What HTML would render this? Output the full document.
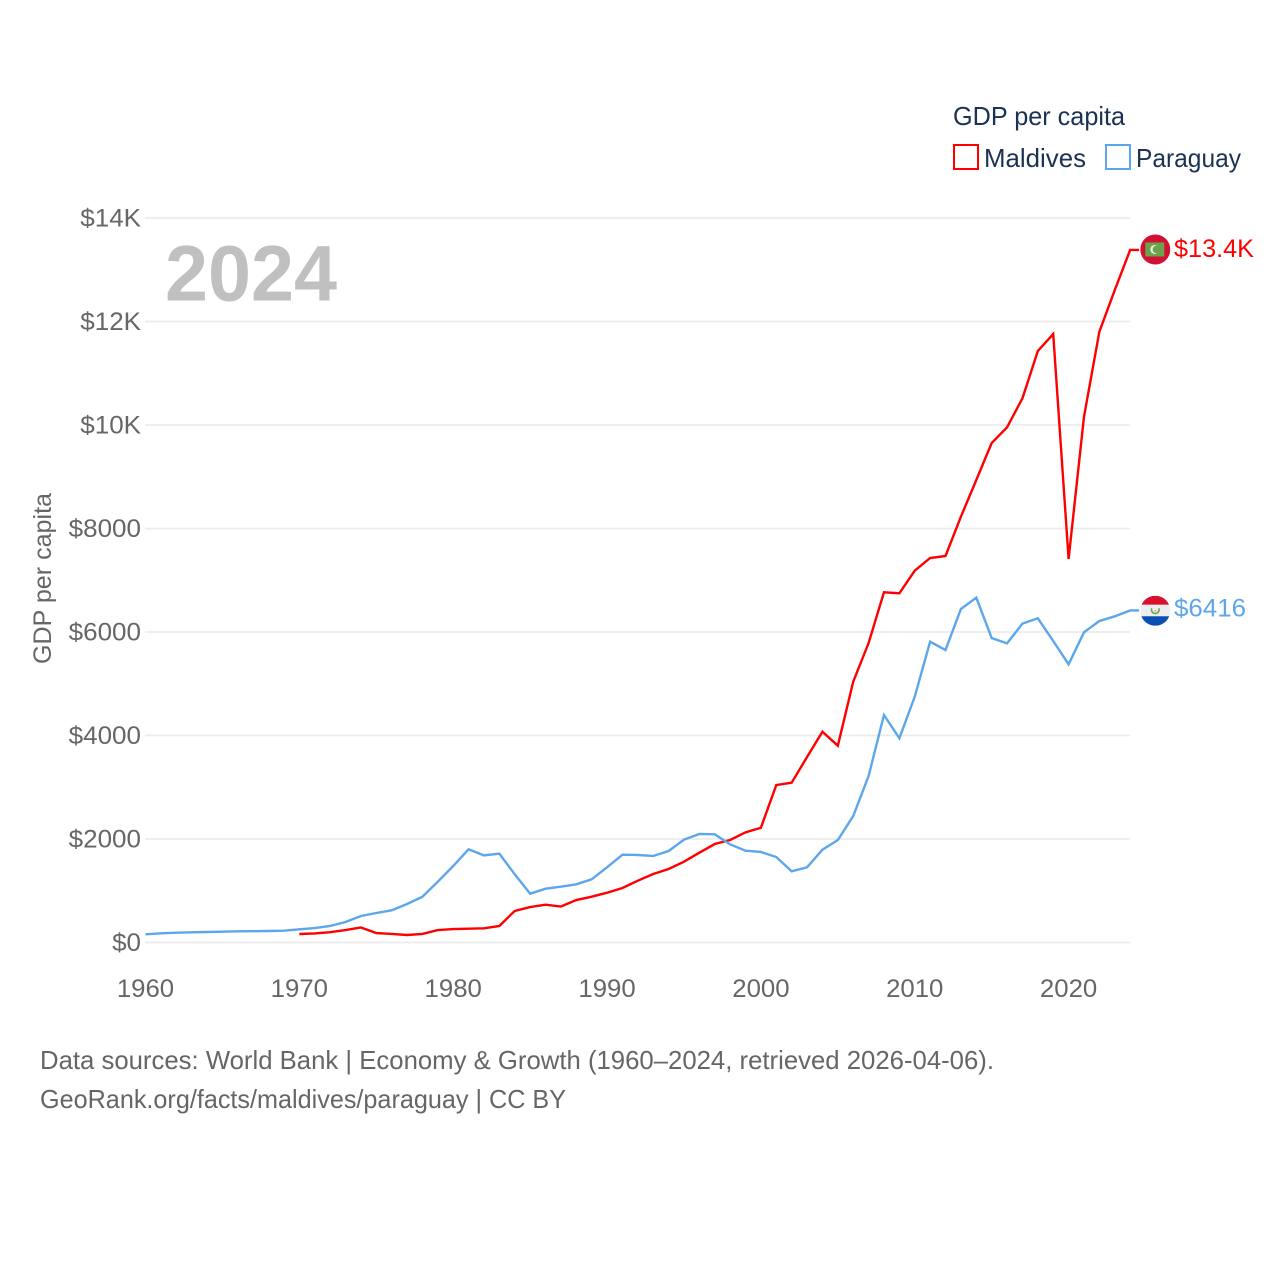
<!DOCTYPE html>
<html lang="en">
<head>
<meta charset="utf-8">
<title>GDP per capita: Maldives and Paraguay</title>
<style>
html,body{margin:0;padding:0;background:#fff;width:1280px;height:1280px;overflow:hidden}
svg{display:block;font-family:"Liberation Sans",sans-serif}
</style>
</head>
<body>
<svg id="chart" xmlns="http://www.w3.org/2000/svg" width="1280" height="1280" viewBox="0 0 1280 1280">
  <defs>
    <clipPath id="flag-clip"><circle cx="0" cy="0" r="15"/></clipPath>
  </defs>
  <g id="grid"></g>
  <g id="y-ticks"></g>
  <g id="x-ticks"></g>
  <text x="165" y="300.5" font-size="79" font-weight="700" fill="#c0c0c0" textLength="172" lengthAdjust="spacingAndGlyphs">2024</text>
  <text transform="translate(51,664) rotate(-90)" font-size="25" fill="#666666" textLength="171" lengthAdjust="spacingAndGlyphs">GDP per capita</text>
  <g id="series"></g>
  <g id="end-labels"></g>

  <g>
    <text x="953" y="125" font-size="26" fill="#1b3252" textLength="172" lengthAdjust="spacingAndGlyphs">GDP per capita</text>
    <rect x="954" y="145" width="24" height="24" fill="none" stroke="#ff0000" stroke-width="2"/>
    <text x="984" y="167" font-size="26" fill="#1b3252" textLength="102" lengthAdjust="spacingAndGlyphs">Maldives</text>
    <rect x="1106" y="145" width="24" height="24" fill="none" stroke="#5ca6ec" stroke-width="2"/>
    <text x="1136" y="167" font-size="26" fill="#1b3252" textLength="105" lengthAdjust="spacingAndGlyphs">Paraguay</text>
  </g>

  <text x="40" y="1069" font-size="26" fill="#666666" textLength="954" lengthAdjust="spacingAndGlyphs">Data sources: World Bank | Economy &amp; Growth (1960–2024, retrieved 2026-04-06).</text>
  <text x="40" y="1108" font-size="26" fill="#666666" textLength="526" lengthAdjust="spacingAndGlyphs">GeoRank.org/facts/maldives/paraguay | CC BY</text>
</svg>

<script>
const yTickValues = [0, 2000, 4000, 6000, 8000, 10000, 12000, 14000];
const yTickLabels = ['$0', '$2000', '$4000', '$6000', '$8000', '$10K', '$12K', '$14K'];
const xTickYears = [1960, 1970, 1980, 1990, 2000, 2010, 2020];
const xTickLabels = ['1960', '1970', '1980', '1990', '2000', '2010', '2020'];

const paraguayStartYear = 1960;
const paraguayValues = [
  158, 178, 190, 197, 203, 209, 216, 219, 222, 229,
  255, 280, 319, 396, 512, 570, 622, 744, 885, 1175,
  1478, 1800, 1684, 1716, 1318, 943, 1040, 1078, 1125, 1221,
  1453, 1697, 1691, 1672, 1768, 1987, 2097, 2090, 1897, 1774,
  1749, 1652, 1376, 1453, 1793, 1981, 2444, 3217, 4396, 3946,
  4750, 5813, 5652, 6444, 6663, 5884, 5781, 6161, 6265, 5826,
  5376, 5994, 6213, 6303, 6416
];
const maldivesStartYear = 1970;
const maldivesValues = [
  164, 175, 200, 240, 290, 183, 165, 145, 165, 240,
  260, 267, 275, 320, 610, 685, 730, 695, 820, 885,
  962, 1053, 1194, 1323, 1420, 1561, 1735, 1903, 1981, 2129,
  2218, 3043, 3088, 3585, 4073, 3803, 5040, 5787, 6767, 6748,
  7185, 7430, 7469, 8228, 8937, 9652, 9955, 10516, 11430, 11758,
  7411, 10160, 11803, 12608, 13382
];
const maldivesEndLabel = '$13.4K';
const paraguayEndLabel = '$6416';

const NS = 'http://www.w3.org/2000/svg';
const xScale = function (year) { return 145.5 + (year - 1960) * 15.385; };
const yScale = function (value) { return 942.5 - value * 0.05175; };

function make(tag, attrs, parent) {
  const el = document.createElementNS(NS, tag);
  Object.keys(attrs).forEach(function (k) { el.setAttribute(k, attrs[k]); });
  parent.appendChild(el);
  return el;
}
function squeeze(el, factor) {
  el.setAttribute('textLength', (el.getComputedTextLength() * factor).toFixed(1));
  el.setAttribute('lengthAdjust', 'spacingAndGlyphs');
}

const gridG = document.getElementById('grid');
const yG = document.getElementById('y-ticks');
yTickValues.forEach(function (v, i) {
  const y = yScale(v);
  const line = make('line', { x1: 145, x2: 1130, y1: y, y2: y, stroke: '#ebebeb', 'stroke-width': 1.8 }, gridG);
  
  
  const t = make('text', { x: 141, y: y + 8.5, 'text-anchor': 'end', 'font-size': 25, fill: '#666666' }, yG);
  t.textContent = yTickLabels[i];
  
  
  squeeze(t, 1.04);
});

const xG = document.getElementById('x-ticks');
xTickYears.forEach(function (yr, i) {
  const t = make('text', { x: xScale(yr), y: 997, 'text-anchor': 'middle', 'font-size': 25, fill: '#666666' }, xG);
  t.textContent = xTickLabels[i];
  
  
  squeeze(t, 1.03);
});

function linePath(values, startYear) {
  let d = '';
  values.forEach(function (v, i) {
    d += (i ? 'L' : 'M') + xScale(startYear + i).toFixed(2) + ' ' + yScale(v).toFixed(2);
  });
  const last = values[values.length - 1];
  d += 'L' + (xScale(startYear + values.length - 1) + 9).toFixed(2) + ' ' + yScale(last).toFixed(2);
  return d;
}

const seriesG = document.getElementById('series');
const maldivesLine = make('path', { d: linePath(maldivesValues, maldivesStartYear), fill: 'none', stroke: '#ff0000', 'stroke-width': 2.4, 'stroke-linejoin': 'miter' }, seriesG);


const paraguayLine = make('path', { d: linePath(paraguayValues, paraguayStartYear), fill: 'none', stroke: '#5ca6ec', 'stroke-width': 2.4, 'stroke-linejoin': 'miter' }, seriesG);



const endG = document.getElementById('end-labels');

const mY = yScale(maldivesValues[maldivesValues.length - 1]);
const mFlag = make('g', { transform: 'translate(1155.3,' + (mY - 0.5) + ')', 'clip-path': 'url(#flag-clip)' }, endG);


make('rect', { x: -15, y: -15, width: 30, height: 30, fill: '#d21034' }, mFlag);
make('rect', { x: -10, y: -7, width: 19, height: 14, fill: '#6aa34a' }, mFlag);
make('circle', { cx: -0.5, cy: 0, r: 4.5, fill: '#e8efe0' }, mFlag);
make('circle', { cx: 1.2, cy: 0, r: 3.9, fill: '#6aa34a' }, mFlag);
const mLabel = make('text', { x: 1174, y: mY + 7, 'font-size': 25, fill: '#ff0000' }, endG);
mLabel.textContent = maldivesEndLabel;


mLabel.setAttribute('textLength', '80');
mLabel.setAttribute('lengthAdjust', 'spacingAndGlyphs');

const pY = yScale(paraguayValues[paraguayValues.length - 1]);
const pFlag = make('g', { transform: 'translate(1155.3,' + (pY + 0.3) + ')', 'clip-path': 'url(#flag-clip)' }, endG);


make('rect', { x: -15, y: -15, width: 30, height: 9, fill: '#d9102e' }, pFlag);
make('rect', { x: -15, y: -6, width: 30, height: 12, fill: '#eeeeee' }, pFlag);
make('rect', { x: -15, y: 5.5, width: 30, height: 9.5, fill: '#0a50b4' }, pFlag);
make('path', { d: 'M-3.5 -2.5A3.8 3.8 0 1 0 3.5 -2.5', fill: 'none', stroke: '#6aa34a', 'stroke-width': 1.5 }, pFlag);
make('circle', { cx: 0, cy: 0, r: 1, fill: '#e9a0a0' }, pFlag);
const pLabel = make('text', { x: 1174, y: pY + 6, 'font-size': 25, fill: '#5ca6ec' }, endG);
pLabel.textContent = paraguayEndLabel;


pLabel.setAttribute('textLength', '72');
pLabel.setAttribute('lengthAdjust', 'spacingAndGlyphs');
</script>
</body>
</html>
